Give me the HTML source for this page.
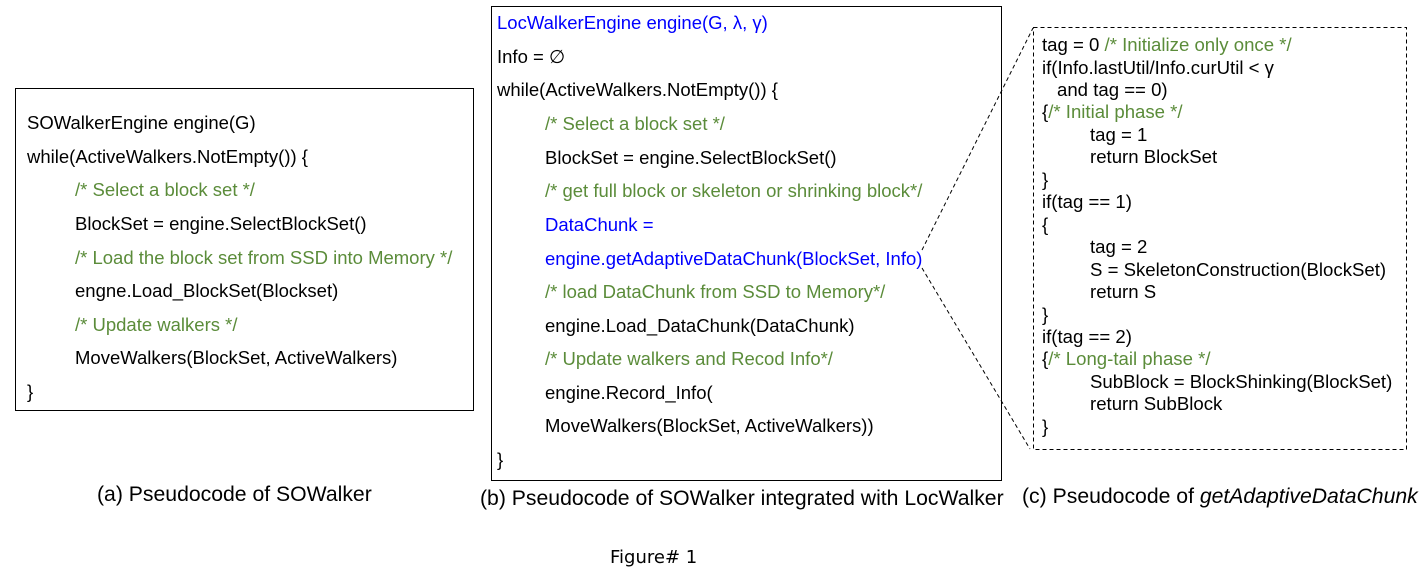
<!DOCTYPE html>
<html><head><meta charset="utf-8"><style>
body{margin:0;width:1420px;height:586px;background:#fff;position:relative;overflow:hidden;font-family:"Liberation Sans",Arial,sans-serif;color:#000}
.t{position:absolute;white-space:nowrap;font-size:18.5px;line-height:20px;letter-spacing:0}
.c{position:absolute;white-space:nowrap;font-size:18.6px;line-height:20px;letter-spacing:0}
.cap{position:absolute;white-space:nowrap;font-size:21.2px;line-height:24px}
.g{color:#5b8c3a}.b{color:#0000ff}
.box{position:absolute;border:1px solid #000}
</style></head><body>
<div class="box" style="left:15px;top:88px;width:457px;height:321px"></div>
<div class="box" style="left:491px;top:6px;width:509px;height:473px"></div>
<svg style="position:absolute;left:0;top:0" width="1420" height="586">
<rect x="1033.5" y="27.5" width="373" height="422" fill="none" stroke="#000" stroke-width="1" stroke-dasharray="4,3"/>
<line x1="922" y1="250" x2="1033" y2="28" stroke="#000" stroke-dasharray="4,3"/>
<line x1="922" y1="268" x2="1030" y2="449" stroke="#000" stroke-dasharray="4,3"/>
</svg>
<div class="t" style="left:27px;top:113px">SOWalkerEngine engine(G)</div>
<div class="t" style="left:27px;top:147px">while(ActiveWalkers.NotEmpty()) {</div>
<div class="t g" style="left:75px;top:180px">/* Select a block set */</div>
<div class="t" style="left:75px;top:214px">BlockSet = engine.SelectBlockSet()</div>
<div class="t g" style="left:75px;top:248px">/* Load the block set from SSD into Memory */</div>
<div class="t" style="left:75px;top:281px">engne.Load_BlockSet(Blockset)</div>
<div class="t g" style="left:75px;top:315px">/* Update walkers */</div>
<div class="t" style="left:75px;top:348px">MoveWalkers(BlockSet, ActiveWalkers)</div>
<div class="t" style="left:27px;top:382px">}</div>

<div class="t b" style="left:497px;top:13px">LocWalkerEngine engine(G, λ, γ)</div>
<div class="t" style="left:497px;top:47px">Info = ∅</div>
<div class="t" style="left:497px;top:80px">while(ActiveWalkers.NotEmpty()) {</div>
<div class="t g" style="left:545px;top:114px">/* Select a block set */</div>
<div class="t" style="left:545px;top:148px">BlockSet = engine.SelectBlockSet()</div>
<div class="t g" style="left:545px;top:181px">/* get full block or skeleton or shrinking block*/</div>
<div class="t b" style="left:545px;top:215px">DataChunk =</div>
<div class="t b" style="left:545px;top:249px">engine.getAdaptiveDataChunk(BlockSet, Info)</div>
<div class="t g" style="left:545px;top:282px">/* load DataChunk from SSD to Memory*/</div>
<div class="t" style="left:545px;top:316px">engine.Load_DataChunk(DataChunk)</div>
<div class="t g" style="left:545px;top:349px">/* Update walkers  and Recod Info*/</div>
<div class="t" style="left:545px;top:383px">engine.Record_Info(</div>
<div class="t" style="left:545px;top:416px">MoveWalkers(BlockSet, ActiveWalkers))</div>
<div class="t" style="left:497px;top:450px">}</div>

<div class="c" style="left:1042px;top:35px">tag = 0 <span class="g">/* Initialize only once */</span></div>
<div class="c" style="left:1042px;top:58px">if(Info.lastUtil/Info.curUtil &lt; γ</div>
<div class="c" style="left:1057px;top:80px">and tag == 0)</div>
<div class="c" style="left:1042px;top:102px">{<span class="g">/* Initial phase */</span></div>
<div class="c" style="left:1090px;top:125px">tag = 1</div>
<div class="c" style="left:1090px;top:147px">return BlockSet</div>
<div class="c" style="left:1042px;top:170px">}</div>
<div class="c" style="left:1042px;top:192px">if(tag == 1)</div>
<div class="c" style="left:1042px;top:215px">{</div>
<div class="c" style="left:1090px;top:237px">tag = 2</div>
<div class="c" style="left:1090px;top:260px">S = SkeletonConstruction(BlockSet)</div>
<div class="c" style="left:1090px;top:282px">return S</div>
<div class="c" style="left:1042px;top:305px">}</div>
<div class="c" style="left:1042px;top:327px">if(tag == 2)</div>
<div class="c" style="left:1042px;top:349px">{<span class="g">/* Long-tail phase */</span></div>
<div class="c" style="left:1090px;top:372px">SubBlock = BlockShinking(BlockSet)</div>
<div class="c" style="left:1090px;top:394px">return SubBlock</div>
<div class="c" style="left:1042px;top:417px">}</div>

<div class="cap" style="left:97px;top:483px">(a) Pseudocode of SOWalker</div>
<div class="cap" style="left:480px;top:487px">(b) Pseudocode of SOWalker integrated with LocWalker</div>
<div class="cap" style="left:1022px;top:485px">(c) Pseudocode of <i>getAdaptiveDataChunk</i></div>
<div class="t" style="left:610px;top:548px;font-family:'DejaVu Sans',sans-serif;font-size:18px">Figure# 1</div>
</body></html>
